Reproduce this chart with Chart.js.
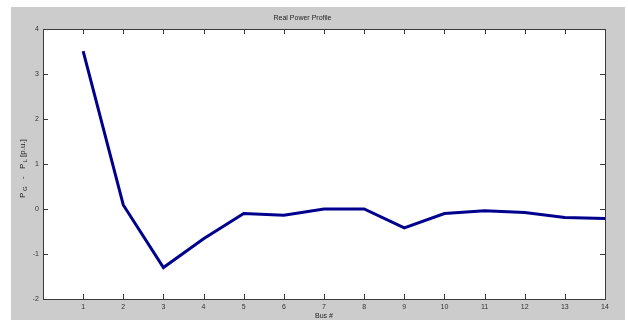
<!DOCTYPE html>
<html>
<head>
<meta charset="utf-8">
<title>Real Power Profile</title>
<script src="https://cdn.jsdelivr.net/npm/chart.js@4/dist/chart.umd.min.js"></script>
<style>
  html, body { margin: 0; padding: 0; background: #ffffff; }
  #wrap { width: 628px; height: 320px; }
</style>
</head>
<body>
<div id="wrap"><canvas id="chart" width="628" height="320"></canvas></div>
<script>
// Bus numbers along the x axis
const busNumbers = [1, 2, 3, 4, 5, 6, 7, 8, 9, 10, 11, 12, 13, 14];
// Net injected real power P_G - P_L at each bus, per unit
const netPower = [3.51, 0.09, -1.30, -0.66, -0.10, -0.14, 0.00, 0.00, -0.42, -0.10, -0.04, -0.08, -0.19, -0.21];
// Axis tick values
const xTickValues = [1, 2, 3, 4, 5, 6, 7, 8, 9, 10, 11, 12, 13, 14];
const yTickValues = [-2, -1, 0, 1, 2, 3, 4];

const FONT = '"Liberation Sans", Arial, sans-serif';
const FIG_BG = '#cccccc';
const AXIS_COLOR = '#3a3a3a';

const points = busNumbers.map((b, i) => ({ x: b, y: netPower[i] }));

// Figure background, white axes box, frame and inward tick marks
const figurePlugin = {
  id: 'figureFrame',
  beforeDraw(chart) {
    const ctx = chart.ctx;
    const a = chart.chartArea;
    ctx.save();
    ctx.fillStyle = '#ffffff';
    ctx.fillRect(0, 0, chart.width, chart.height);
    ctx.fillStyle = FIG_BG;
    ctx.fillRect(11, 7, 614, 313);
    ctx.fillStyle = '#ffffff';
    ctx.fillRect(a.left, a.top, a.right - a.left, a.bottom - a.top);
    ctx.restore();
  },
  afterDatasetsDraw(chart) {
    const ctx = chart.ctx;
    const a = chart.chartArea;
    const xs = chart.scales.x;
    const ys = chart.scales.y;
    const len = 5;
    ctx.save();
    ctx.strokeStyle = AXIS_COLOR;
    ctx.lineWidth = 1;
    ctx.beginPath();
    xTickValues.forEach(v => {
      const px = Math.round(xs.getPixelForValue(v)) + 0.5;
      ctx.moveTo(px, a.bottom); ctx.lineTo(px, a.bottom - len);
      ctx.moveTo(px, a.top); ctx.lineTo(px, a.top + len);
    });
    yTickValues.forEach(v => {
      const py = Math.round(ys.getPixelForValue(v)) + 0.5;
      ctx.moveTo(a.left, py); ctx.lineTo(a.left + len, py);
      ctx.moveTo(a.right, py); ctx.lineTo(a.right - len, py);
    });
    ctx.stroke();
    ctx.strokeRect(Math.round(a.left) + 0.5, Math.round(a.top) + 0.5,
                   Math.round(a.right - a.left), Math.round(a.bottom - a.top));
    ctx.restore();
  }
};

// Rotated y-axis title with subscripts: P_G - P_L [p.u.]
const yTitlePlugin = {
  id: 'yTitle',
  afterDraw(chart) {
    const ctx = chart.ctx;
    const a = chart.chartArea;
    // offset: distance along the rotated baseline from the start of the label
    const parts = [
      { t: 'P', s: 8, dy: 0, at: 0 },
      { t: 'G', s: 6, dy: 2.5, at: 7 },
      { t: '-', s: 8, dy: 0, at: 19 },
      { t: 'P', s: 8, dy: 0, at: 29 },
      { t: 'L', s: 6, dy: 2.5, at: 35.5 },
      { t: '[p.u.]', s: 8, dy: 0, at: 41 }
    ];
    const total = 58;
    ctx.save();
    const cx = 23;
    const cy = (a.top + a.bottom) / 2 + 5;
    ctx.translate(cx, cy);
    ctx.rotate(-Math.PI / 2);
    ctx.fillStyle = '#222222';
    ctx.textBaseline = 'middle';
    ctx.textAlign = 'left';
    parts.forEach(p => {
      ctx.font = p.s + 'px ' + FONT;
      ctx.fillText(p.t, -total / 2 + p.at, p.dy);
    });
    ctx.restore();
  }
};

new Chart(document.getElementById('chart'), {
  type: 'line',
  data: {
    datasets: [{
      data: points,
      borderColor: '#00008c',
      backgroundColor: '#00008c',
      borderWidth: 3,
      pointRadius: 0,
      tension: 0,
      fill: false
    }]
  },
  options: {
    responsive: false,
    devicePixelRatio: 1,
    animation: false,
    layout: { padding: { left: 0, right: 23, top: 0, bottom: 0 } },
    plugins: {
      legend: { display: false },
      tooltip: { enabled: false },
      title: {
        display: true,
        text: 'Real Power Profile',
        color: '#222222',
        font: { family: FONT, size: 7, weight: 'normal' },
        padding: { top: 14, bottom: 6.6 }
      }
    },
    scales: {
      x: {
        type: 'linear',
        min: 0,
        max: 14,
        afterBuildTicks(scale) { scale.ticks = xTickValues.map(v => ({ value: v })); },
        afterFit(scale) { scale.height = 21; },
        grid: { display: false, drawTicks: false },
        border: { display: false },
        ticks: {
          color: '#333333',
          font: { family: FONT, size: 7 },
          padding: 4,
          maxRotation: 0,
          autoSkip: false
        },
        title: {
          display: true,
          text: 'Bus #',
          color: '#222222',
          font: { family: FONT, size: 7 },
          padding: { top: 0, bottom: 0 }
        }
      },
      y: {
        type: 'linear',
        min: -2,
        max: 4,
        afterBuildTicks(scale) { scale.ticks = yTickValues.map(v => ({ value: v })); },
        afterFit(scale) { scale.width = 43; },
        grid: { display: false, drawTicks: false },
        border: { display: false },
        ticks: {
          color: '#333333',
          font: { family: FONT, size: 7 },
          padding: 4
        }
      }
    }
  },
  plugins: [figurePlugin, yTitlePlugin]
});
</script>
</body>
</html>
